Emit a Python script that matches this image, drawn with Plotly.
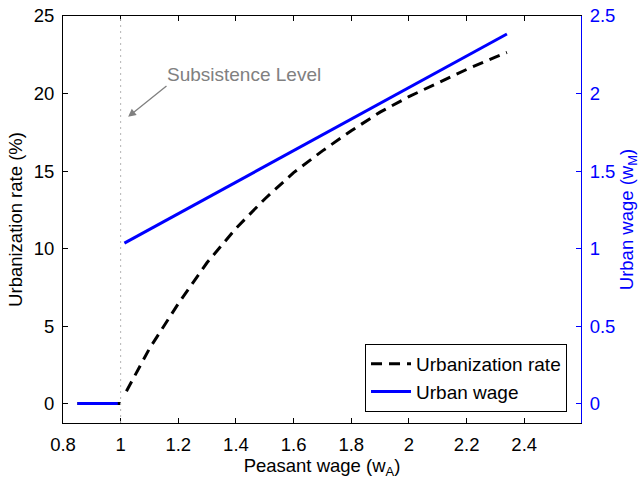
import plotly.graph_objects as go

# Urbanization rate (%) vs peasant wage
wage_a_rate = [0.85, 1.0, None, 1.02, 1.1, 1.2, 1.3, 1.4, 1.5, 1.6, 1.7, 1.8, 1.9, 2.0, 2.1, 2.2, 2.3, 2.34]
urban_rate = [0.0, 0.0, None, 0.8, 3.55, 6.45, 9.1, 11.3, 13.2, 14.9, 16.3, 17.6, 18.8, 19.8, 20.7, 21.55, 22.35, 22.65]

# Urban wage vs peasant wage
wage_a_urban = [0.85, 0.99, None, 1.013, 1.5, 2.0, 2.34]
urban_wage = [0.0, 0.0, None, 1.035, 1.53, 2.04, 2.384]

subsistence = 1.0
x_ticks = [0.8, 1.0, 1.2, 1.4, 1.6, 1.8, 2.0, 2.2, 2.4]
x_tick_text = ["0.8", "1", "1.2", "1.4", "1.6", "1.8", "2", "2.2", "2.4"]
left_ticks = [0, 5, 10, 15, 20, 25]
right_ticks = [0, 0.5, 1, 1.5, 2, 2.5]
right_tick_text = ["0", "0.5", "1", "1.5", "2", "2.5"]

FONT = "Liberation Sans, Arial, Helvetica, sans-serif"
FS = 18.5
BLUE = "#0000ff"
GRAY = "#808080"

fig = go.Figure()
fig.add_trace(go.Scatter(
    x=wage_a_rate, y=urban_rate, mode="lines", name="Urbanization rate",
    line=dict(color="black", width=3, dash="11px,7px"), connectgaps=False,
    yaxis="y"))
fig.add_trace(go.Scatter(
    x=wage_a_urban, y=urban_wage, mode="lines", name="Urban wage",
    line=dict(color=BLUE, width=3), connectgaps=False, yaxis="y2"))

fig.add_shape(type="line", xref="x", yref="paper", x0=subsistence, x1=subsistence,
              y0=0, y1=1, line=dict(color="#b4b4b4", width=1, dash="2px,4px"))

fig.add_annotation(x=1.026, y=18.5, ax=1.159, ay=20.49, xref="x", yref="y",
                   axref="x", ayref="y", text="Subsistence Level", showarrow=True,
                   xanchor="left", yanchor="bottom", borderpad=0,
                   arrowhead=2, arrowsize=1.2, arrowwidth=1.3, arrowcolor=GRAY,
                   font=dict(family=FONT, size=19, color=GRAY))

fig.update_layout(
    width=641, height=479,
    margin=dict(l=63, r=60, t=16, b=56),
    paper_bgcolor="white", plot_bgcolor="white",
    font=dict(family=FONT, size=FS, color="black"),
    showlegend=True,
    legend=dict(x=0.973, y=0.027, xanchor="right", yanchor="bottom",
                bgcolor="white", bordercolor="black", borderwidth=1,
                font=dict(family=FONT, size=19, color="black"),
                tracegroupgap=0, itemwidth=40),
    xaxis=dict(range=[0.8, 2.597], tickvals=x_ticks, ticktext=x_tick_text,
               automargin=False, ticklabeloverflow="allow",
               showgrid=False, zeroline=False, showline=True, linecolor="black",
               linewidth=1, mirror="ticks", ticks="inside", ticklen=5,
               tickcolor="black", ticklabelstandoff=5,
               tickfont=dict(size=FS),
               title=dict(text="Peasant wage (w<sub>A</sub>)", standoff=0,
                          font=dict(size=FS))),
    yaxis=dict(range=[-1.25, 25], tickvals=left_ticks, showgrid=False,
               automargin=False, ticklabeloverflow="allow",
               zeroline=False, showline=True, linecolor="black", linewidth=1,
               ticks="inside", ticklen=5, tickcolor="black", ticklabelstandoff=4,
               tickfont=dict(size=FS),
               title=dict(text="Urbanization rate (%)", standoff=6,
                          font=dict(size=FS))),
    yaxis2=dict(range=[-0.125, 2.5], tickvals=right_ticks, ticktext=right_tick_text,
                automargin=False, ticklabeloverflow="allow",
                overlaying="y", side="right", showgrid=False, zeroline=False,
                showline=True, linecolor=BLUE, linewidth=1, ticks="inside",
                ticklen=5, tickcolor=BLUE, tickfont=dict(color=BLUE, size=FS),
                ticklabelstandoff=4,
                title=dict(text="Urban wage (w<sub>M</sub>)", standoff=5,
                           font=dict(color=BLUE, size=FS))),
)

# remove the browser's default 8px body margin so the figure fills the window
fig.write_html("out.html", config={"displayModeBar": False},
               post_script="document.body.style.margin='0px';")
